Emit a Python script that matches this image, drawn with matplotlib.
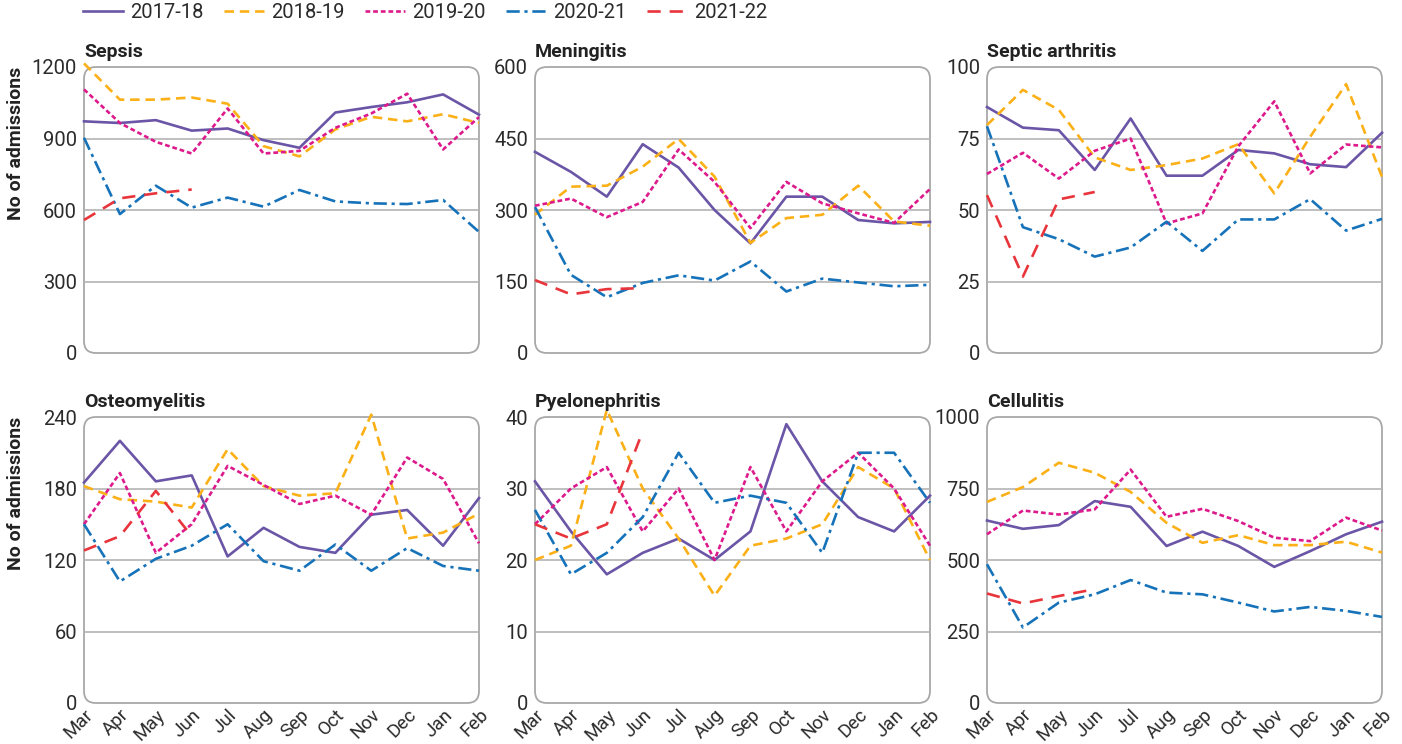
import matplotlib
matplotlib.use('Agg')
import matplotlib.pyplot as plt
from matplotlib.patches import FancyBboxPatch

plt.rcParams['font.family'] = ['Roboto', 'DejaVu Sans']

# data, one row per season: 2017-18 .. 2021-22
months = ['Mar', 'Apr', 'May', 'Jun', 'Jul', 'Aug', 'Sep', 'Oct', 'Nov', 'Dec', 'Jan', 'Feb']
seasons = ['2017-18', '2018-19', '2019-20', '2020-21', '2021-22']

sepsis = [
    [972, 965, 977, 933, 942, 893, 861, 1009, 1032, 1052, 1085, 1000],
    [1215, 1063, 1063, 1072, 1046, 868, 825, 938, 991, 972, 1002, 965],
    [1106, 965, 886, 837, 1026, 837, 848, 945, 1005, 1088, 854, 990],
    [903, 583, 702, 610, 652, 614, 684, 636, 628, 625, 642, 508],
    [558, 649, 670, 686],
]
meningitis = [
    [422, 380, 328, 438, 389, 300, 230, 328, 328, 279, 272, 275],
    [290, 349, 351, 391, 449, 370, 231, 283, 290, 351, 276, 267],
    [309, 324, 285, 317, 427, 359, 262, 359, 314, 293, 273, 344],
    [306, 164, 117, 147, 163, 152, 192, 129, 156, 148, 140, 143],
    [153, 123, 134, 136],
]
septic_arthritis = [
    [86, 78.8, 77.9, 64, 82, 62, 62, 71, 69.8, 66, 65, 77],
    [79.7, 92, 85, 68.4, 64, 65.7, 68, 73, 55.8, 75.6, 94, 61.6],
    [62.6, 70, 61, 70.7, 75, 45.3, 48.8, 72.3, 88, 62.8, 72.9, 71.9],
    [79.3, 44, 39.8, 33.7, 36.9, 45.9, 35.7, 46.7, 46.7, 53.8, 42.8, 46.9],
    [55.2, 26.7, 53.7, 56.3],
]
osteomyelitis = [
    [185, 220, 186, 191, 123, 147, 131, 126, 158, 162, 132, 172],
    [182, 171, 169, 164, 213, 182, 174, 176, 242, 138, 143, 159],
    [150, 193, 126, 150, 199, 183, 167, 174, 158, 206, 188, 134],
    [150, 102, 121, 132, 150, 119, 111, 133, 111, 130, 115, 111],
    [128, 140, 178, 140],
]
pyelonephritis = [
    [31, 24, 18, 21, 23, 20, 24, 39, 31, 26, 24, 29],
    [20, 22, 41, 30, 23, 15, 22, 23, 25, 33, 30, 20],
    [25, 30, 33, 24, 30, 20, 33, 24, 31, 35, 30, 22],
    [27, 18, 21, 26, 35, 28, 29, 28, 21, 35, 35, 28],
    [25, 23, 25, 38],
]
cellulitis = [
    [638, 609, 622, 706, 686, 549, 599, 549, 476, 531, 590, 634],
    [703, 755, 840, 805, 738, 630, 560, 587, 552, 552, 564, 526],
    [590, 673, 659, 677, 816, 651, 679, 636, 578, 566, 648, 603],
    [485, 264, 351, 380, 430, 386, 380, 351, 320, 336, 322, 301],
    [383, 348, 374, 398],
]

titles = ['Sepsis', 'Meningitis', 'Septic arthritis', 'Osteomyelitis', 'Pyelonephritis', 'Cellulitis']
panels = [sepsis, meningitis, septic_arthritis, osteomyelitis, pyelonephritis, cellulitis]
yticks = [[0, 300, 600, 900, 1200], [0, 150, 300, 450, 600], [0, 25, 50, 75, 100],
          [0, 60, 120, 180, 240], [0, 10, 20, 30, 40], [0, 250, 500, 750, 1000]]

colors = ['#6a55a6', '#fbb017', '#dc1a8c', '#1672b9', '#e8343b']
styles = ['-', (0, (3.6, 2.2)), (0, (1.8, 1.1)), (0, (5, 1.8, 1.2, 1.8)), (0, (5, 3.4))]

W, H = 1402, 744
fig = plt.figure(figsize=(W / 100, H / 100), dpi=100)

col_left = [84, 535, 987]
row_top = [67, 417]
aw, ah = 395, 286

for k, (title, data, yt) in enumerate(zip(titles, panels, yticks)):
    r, c = divmod(k, 3)
    ax = fig.add_axes([col_left[c] / W, 1 - (row_top[r] + ah) / H, aw / W, ah / H])
    ax.set_xlim(0, 11)
    ax.set_ylim(0, yt[-1])
    for s in ax.spines.values():
        s.set_visible(False)
    box = FancyBboxPatch((0, 0), 1, 1, boxstyle='round,pad=0,rounding_size=0.03',
                         mutation_aspect=aw / ah, transform=ax.transAxes,
                         facecolor='none', edgecolor='#a8a8a8', lw=1.3,
                         clip_on=False, zorder=1)
    ax.add_patch(box)
    for v in yt[1:-1]:
        ax.axhline(v, color='#b4b4b4', lw=1.2, zorder=1)

    for i, series in enumerate(data):
        ax.plot(range(len(series)), series, color=colors[i], linestyle=styles[i],
                lw=1.9, clip_on=False, zorder=3 + i, label=seasons[i])

    ax.set_yticks(yt)
    ax.tick_params(axis='y', length=0, pad=5, labelsize=14.5, labelcolor='#2b2b2b')
    ax.set_xticks(range(12))
    ax.set_xticks(range(1, 11), minor=True)
    ax.tick_params(axis='x', which='major', length=0, pad=2)
    ax.tick_params(axis='x', which='minor', direction='in', length=6, width=1.2,
                   color='#a8a8a8')
    if r == 1:
        ax.set_xticklabels(months, rotation=45, ha='right', va='top',
                           rotation_mode='anchor', fontsize=13.5, color='#2b2b2b')
    else:
        ax.set_xticklabels([])
    ax.set_title(title, loc='left', fontweight='bold', fontsize=14, pad=7, color='#222222')
    if c == 0:
        ax.set_ylabel('No of admissions', loc='top', fontweight='bold', fontsize=14,
                      color='#222222')
        ax.yaxis.set_label_coords(-0.15, 1.0)
    if k == 0:
        handles, labels = ax.get_legend_handles_labels()

fig.legend(handles, labels, loc='upper left', bbox_to_anchor=(83 / W, 1 - 3 / H),
           ncol=5, frameon=False, fontsize=14.5, handlelength=2.0, handletextpad=0.35,
           columnspacing=1.0, borderpad=0, borderaxespad=0, labelcolor='#2b2b2b')

fig.savefig('out.png', dpi=100)
